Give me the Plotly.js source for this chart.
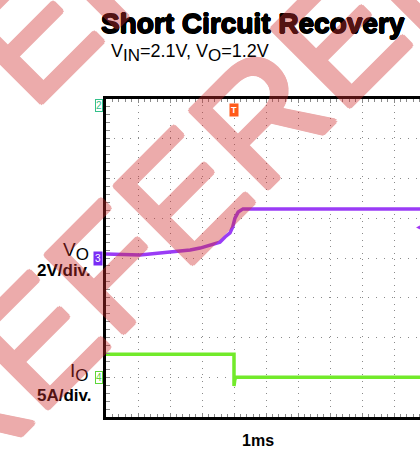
<!DOCTYPE html>
<html><head><meta charset="utf-8">
<script src="https://cdn.plot.ly/plotly-3.0.1.min.js"></script>
<style>html,body{margin:0;padding:0;overflow:hidden;background:#fff}#chart{width:440px;height:453px}</style>
</head><body><div id="chart"></div>
<script>
// ---- data ----
const timeMs = [0, 1.06, 2.0, 2.63, 2.94, 3.25, 3.56, 3.72, 3.875, 3.96, 4.03, 4.13, 4.28, 10];
const voutV  = [0.20, 0.15, 0.30, 0.40, 0.50, 0.65, 0.80, 1.06, 1.26, 1.56, 2.01, 2.31, 2.47, 2.47];
const ioutTimeMs = [0, 4.0, 4.0, 4.03, 4.08, 10];
const ioutA      = [2.9, 2.9, -1.1, -0.2, 0, 0];
const triggerTimeMs = 4.0;
const triggerLevelV = 1.6;
const msPerDiv = 1, voltsPerDiv = 2, ampsPerDiv = 5;
const ch3OffsetDiv = 0, ch4OffsetDiv = -3;
const divX = 10, divY = 8;
const titleText = '<b>Short Circuit Recovery</b>';
const subtitleText = 'V<sub><span style="font-size:17px">IN</span></sub>=2.1V, V<sub><span style="font-size:17px">O</span></sub>=1.2V';
const ch3Label = 'V<sub><span style="font-size:17px">O</span></sub>', ch3Scale = '<b>2V/div.</b>';
const ch4Label = 'I<sub><span style="font-size:17px">O</span></sub>', ch4Scale = '<b>5A/div.</b>';
const timeScale = '<b>1ms</b>';
const watermarkText = 'REFERENCE';

// ---- layout geometry ----
const L = 106, T = 99, W = 320, H = 318;
const px = x => (x - L) / W;
const py = y => (T + H - y) / H;
const FONT = 'Liberation Sans, Arial, sans-serif';
const purple = '#9a3cf6', green = '#72ea2a';

const traces = [
  {x: timeMs, y: voutV, type: 'scatter', mode: 'lines', line: {color: purple, width: 3.5}, yaxis: 'y', hoverinfo: 'skip'},
  {x: ioutTimeMs, y: ioutA, type: 'scatter', mode: 'lines', line: {color: green, width: 3.5}, yaxis: 'y2', hoverinfo: 'skip'}
];

function ring(r, c) {
  const d = (r * 0.7071).toFixed(2);
  return [`${r}px 0 0 ${c}`, `-${r}px 0 0 ${c}`, `0 ${r}px 0 ${c}`, `0 -${r}px 0 ${c}`,
          `${d}px ${d}px 0 ${c}`, `-${d}px ${d}px 0 ${c}`, `${d}px -${d}px 0 ${c}`, `-${d}px -${d}px 0 ${c}`].join(', ');
}
const wmColor = 'rgb(208,48,48)';
const wm = (cx, cy) => ({xref: 'paper', yref: 'paper', x: px(cx), y: py(cy), xanchor: 'center', yanchor: 'middle',
  text: watermarkText, showarrow: false, textangle: -45, opacity: 0.4,
  font: {family: FONT, size: 160, color: wmColor, shadow: ring(2.5, wmColor)}});

const ann = [
  {xref: 'paper', yref: 'paper', x: px(253), y: py(23), text: titleText, showarrow: false, xanchor: 'center', yanchor: 'middle',
   font: {family: FONT, size: 28, color: '#000', shadow: ring(0.6, '#000')}},
  {xref: 'paper', yref: 'paper', x: px(109), y: py(53), text: subtitleText, showarrow: false, xanchor: 'left', yanchor: 'middle',
   font: {family: FONT, size: 18, color: '#000'}},
  {xref: 'paper', yref: 'paper', x: px(91), y: py(251), text: ch3Label, showarrow: false, xanchor: 'right', yanchor: 'middle',
   font: {family: FONT, size: 19, color: '#000'}},
  {xref: 'paper', yref: 'paper', x: px(35), y: py(270), text: ch3Scale, showarrow: false, xanchor: 'left', yanchor: 'middle',
   font: {family: FONT, size: 17, color: '#000'}},
  {xref: 'paper', yref: 'paper', x: px(91), y: py(372), text: ch4Label, showarrow: false, xanchor: 'right', yanchor: 'middle',
   font: {family: FONT, size: 19, color: '#000'}},
  {xref: 'paper', yref: 'paper', x: px(35), y: py(395), text: ch4Scale, showarrow: false, xanchor: 'left', yanchor: 'middle',
   font: {family: FONT, size: 17, color: '#000'}},
  {xref: 'paper', yref: 'paper', x: px(258), y: py(440), text: timeScale, showarrow: false, xanchor: 'center', yanchor: 'middle',
   font: {family: FONT, size: 16, color: '#000'}},
  // channel markers
  {xref: 'paper', yref: 'paper', x: px(98.5), y: py(105), text: '2', showarrow: false, xanchor: 'center', yanchor: 'middle',
   font: {family: FONT, size: 10, color: '#33c08a'}, bordercolor: '#33c08a', borderwidth: 1, borderpad: 0, bgcolor: '#fff'},
  {xref: 'paper', yref: 'y', x: px(98), y: 0, text: '3', showarrow: false, xanchor: 'center', yanchor: 'middle',
   font: {family: FONT, size: 10, color: '#fff'}, bgcolor: '#7a2cf5', borderpad: 1},
  {xref: 'paper', yref: 'y2', x: px(98.5), y: 0, text: '4', showarrow: false, xanchor: 'center', yanchor: 'middle',
   font: {family: FONT, size: 10, color: '#5ed63a'}, bordercolor: '#5ed63a', borderwidth: 1, borderpad: 0, bgcolor: '#fff'},
  {xref: 'x', yref: 'paper', x: triggerTimeMs, y: py(110), text: '<b>T</b>', showarrow: false, xanchor: 'center', yanchor: 'middle',
   font: {family: FONT, size: 9, color: '#fff'}, bgcolor: '#ff5a1a', borderpad: 1},
  {xref: 'paper', yref: 'y', x: px(414), y: triggerLevelV, text: '◀', showarrow: false, xanchor: 'left', yanchor: 'middle',
   font: {family: 'DejaVu Sans', size: 10, color: purple}},
  // watermark
  wm(266, 111), wm(115, -50)
];

const gridCommon = {showticklabels: false, zeroline: false, showline: true, linecolor: '#000', linewidth: 3, mirror: 'ticks',
  gridcolor: '#8a8a8a', gridwidth: 1, ticks: 'inside', ticklen: 4, tickcolor: '#8a8a8a', tickwidth: 1};

const layout = {
  width: 440, height: 453,
  margin: {l: L, r: 440 - L - W, t: T, b: 453 - T - H, pad: 0},
  paper_bgcolor: '#fff', plot_bgcolor: '#fff', showlegend: false,
  xaxis: Object.assign({}, gridCommon, {range: [0, divX * msPerDiv], dtick: msPerDiv, griddash: '1px,5.4px',
    minor: {dtick: msPerDiv / 5, ticks: 'inside', ticklen: 3, tickcolor: '#8a8a8a', showgrid: false}}),
  yaxis: Object.assign({}, gridCommon, {range: [(-divY / 2 - ch3OffsetDiv) * voltsPerDiv, (divY / 2 - ch3OffsetDiv) * voltsPerDiv],
    dtick: voltsPerDiv, griddash: '1px,6.95px',
    minor: {dtick: voltsPerDiv / 5, ticks: 'inside', ticklen: 4, tickcolor: '#8a8a8a', showgrid: false}}),
  yaxis2: {overlaying: 'y', range: [(-divY / 2 - ch4OffsetDiv) * ampsPerDiv, (divY / 2 - ch4OffsetDiv) * ampsPerDiv],
    showgrid: false, zeroline: false, showticklabels: false, showline: false, ticks: ''},
  annotations: ann
};

Plotly.newPlot('chart', traces, layout, {staticPlot: true, displayModeBar: false});
</script></body></html>
